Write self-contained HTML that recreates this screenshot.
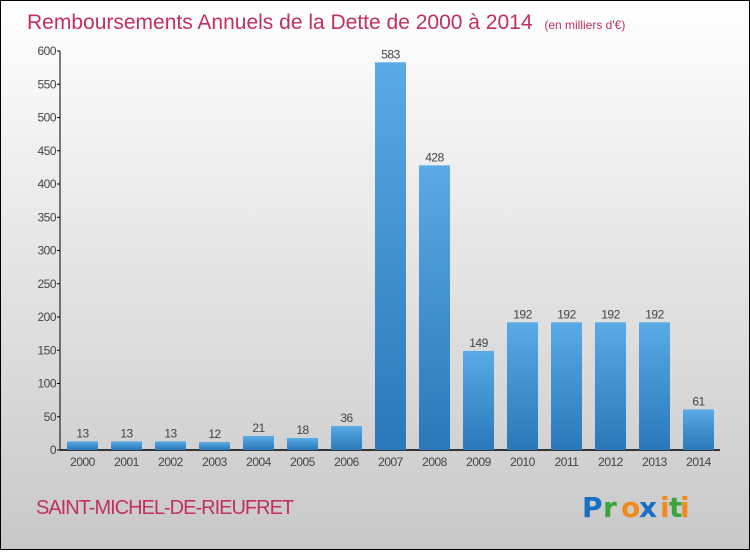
<!DOCTYPE html>
<html><head><meta charset="utf-8"><style>
html,body{margin:0;padding:0}
body{width:750px;height:550px;overflow:hidden;font-family:"Liberation Sans",sans-serif}
</style></head><body>
<svg id="chart" width="750" height="550" xmlns="http://www.w3.org/2000/svg">
<defs>
<linearGradient id="bg" x1="0" y1="0" x2="0" y2="1"><stop offset="0" stop-color="#ffffff"/><stop offset="1" stop-color="#c8c8c8"/></linearGradient>
<linearGradient id="bar" x1="0" y1="0" x2="0" y2="1"><stop offset="0" stop-color="#5aaae6"/><stop offset="1" stop-color="#2a78b8"/></linearGradient>
</defs>
<rect x="0.5" y="0.5" width="749" height="549" fill="url(#bg)" stroke="#000"/>
<text x="27" y="29" font-size="21" fill="#c2305e">Remboursements Annuels de la Dette de 2000 à 2014 <tspan font-size="12" dx="6">(en milliers d'€)</tspan></text>
<g id="axes"></g>
<g id="bars"></g>
<text x="36" y="514" font-size="20" fill="#c2305e" letter-spacing="-1">SAINT-MICHEL-DE-RIEUFRET</text>
<g font-size="28" font-weight="bold" font-family="'DejaVu Sans',sans-serif">
<text x="582" y="517" fill="#1a6fc4">P</text><text x="603" y="517" fill="#3aa53a">r</text><text x="621" y="517" fill="#f08a1a">o</text><text x="639" y="517" fill="#1a6fc4">x</text><text x="660" y="517" fill="#f08a1a">i</text><text x="669" y="517" fill="#3aa53a">t</text><text x="680" y="517" fill="#f08a1a">i</text>
</g>
</svg>
<script>
const categories=["2000","2001","2002","2003","2004","2005","2006","2007","2008","2009","2010","2011","2012","2013","2014"];
const values=[13,13,13,12,21,18,36,583,428,149,192,192,192,192,61];
const yTicks=[0,50,100,150,200,250,300,350,400,450,500,550,600];
const NS="http://www.w3.org/2000/svg";
const y0=450,yTop=51,yMax=600,x0=60,step=44,firstC=82.5,bw=31;
const y=v=>y0-(v/yMax)*(y0-yTop);
const x=i=>firstC+i*step;
function mk(t,a,p){const e=document.createElementNS(NS,t);for(const k in a)e.setAttribute(k,a[k]);p.appendChild(e);return e;}
const ax=document.getElementById('axes'),bg=document.getElementById('bars');
const yl=mk('line',{x1:x0,y1:yTop,x2:x0,y2:y0,stroke:'#000'},ax);


const xl=mk('line',{x1:x0,y1:y0,x2:720,y2:y0,stroke:'#000','stroke-width':1.5},ax);


yTicks.forEach(v=>{
 const tk=mk('line',{x1:x0-3,y1:y(v),x2:x0,y2:y(v),stroke:'#000'},ax);
 
 
 const t=mk('text',{x:x0-4,y:y(v)+4,'font-size':12,fill:'#444','text-anchor':'end','letter-spacing':'-0.5'},ax);
 t.textContent=v;
 
 
});
values.forEach((v,i)=>{
 const r=mk('rect',{x:x(i)-bw/2,y:y(v),width:bw,height:y0-y(v),fill:'url(#bar)'},bg);
 
 
 const t=mk('text',{x:x(i),y:y(v)-4,'font-size':12,fill:'#444','text-anchor':'middle','letter-spacing':'-0.5'},bg);
 t.textContent=v;
 
 
 const c=mk('text',{x:x(i),y:466,'font-size':12,fill:'#444','text-anchor':'middle','letter-spacing':'-0.5'},bg);
 c.textContent=categories[i];
 
 
});
</script>
</body></html>
